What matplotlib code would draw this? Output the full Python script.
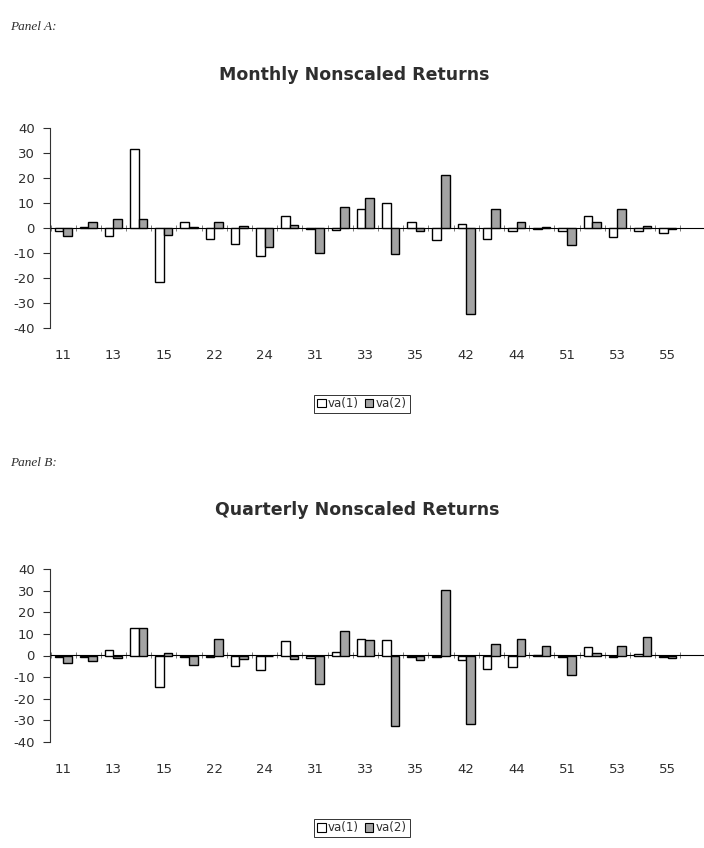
import matplotlib
matplotlib.use("Agg")
import matplotlib.pyplot as plt
from matplotlib.patches import Patch
import numpy as np

categories = ["11", "12", "13", "14", "15", "21", "22", "23", "24", "25",
              "31", "32", "33", "34", "35", "41", "42", "43", "44", "45",
              "51", "52", "53", "54", "55"]

monthly_va1 = [-1.0, 0.3, -3.0, 31.5, -21.5, 2.4, -4.4, -6.5, -11.0, 4.7,
               -0.3, -0.8, 7.7, 9.9, 2.3, -4.6, 1.8, -4.5, -1.0, -0.3,
               -1.0, 4.7, -3.4, -1.0, -2.0]
monthly_va2 = [-3.3, 2.4, 3.5, 3.8, -2.7, 0.3, 2.5, 1.0, -7.6, 1.2,
               -10.1, 8.4, 11.9, -10.3, -1.0, 21.2, -34.5, 7.7, 2.3, 0.3,
               -6.8, 2.3, 7.7, 0.7, -0.4]

quarterly_va1 = [-0.8, -0.5, 2.7, 12.8, -14.5, -0.5, -0.8, -4.8, -6.5, 6.7,
                 -1.0, 1.6, 7.8, 7.0, -0.5, -0.6, -2.3, -6.2, -5.2, 0.3,
                 -0.8, 3.8, -0.5, 0.8, -0.8]
quarterly_va2 = [-3.5, -2.5, -1.3, 12.6, 1.2, -4.5, 7.8, -1.5, -0.3, -1.5,
                 -13.0, 11.4, 7.0, -32.5, -2.2, 30.5, -31.5, 5.2, 7.8, 4.6,
                 -8.8, 1.2, 4.6, 8.5, -1.3]

series_labels = ["va(1)", "va(2)"]
yticks = [40, 30, 20, 10, 0, -10, -20, -30, -40]

plt.rcParams["font.family"] = ["DejaVu Sans"]
text_color = "#2e2e2e"
gray_fill = "#a3a3a3"

fig = plt.figure(figsize=(7.04, 8.48), dpi=100)


def draw_panel(ax, va1, va2):
    x = np.arange(len(categories))
    w = 0.34
    ax.bar(x - w / 2, va1, width=w, color="white", edgecolor="black", linewidth=1.0, zorder=3)
    ax.bar(x + w / 2, va2, width=w, color=gray_fill, edgecolor="black", linewidth=1.0, zorder=3)
    ax.set_ylim(-40, 40)
    ax.set_xlim(-0.52, 25.44)
    ax.set_yticks(yticks)
    ax.set_yticklabels([str(v) for v in yticks])
    ax.tick_params(axis="y", direction="out", length=5, width=0.8, labelsize=9.5,
                   colors=text_color, pad=6)
    ax.set_xticks(x[::2])
    ax.set_xticklabels(categories[::2])
    ax.tick_params(axis="x", length=0, labelsize=9.5, colors=text_color, pad=15)
    for s in ["top", "right", "bottom"]:
        ax.spines[s].set_visible(False)
    ax.spines["left"].set_linewidth(0.8)
    ax.spines["left"].set_color("#333333")
    sec = ax.secondary_xaxis(0.5)
    sec.set_xticks(np.arange(-0.5, len(categories) + 0.5, 1.0))
    sec.tick_params(axis="x", direction="inout", length=5, width=0.6, labelbottom=False,
                    labeltop=False, colors="#666666")
    sec.set_xticklabels([])
    sec.spines["bottom"].set_linewidth(1.0)
    sec.spines["bottom"].set_color("black")
    ax.set_facecolor("none")


axA = fig.add_axes([50 / 704, 1 - 328 / 848, 1 - 50 / 704, 200 / 848])
draw_panel(axA, monthly_va1, monthly_va2)
axB = fig.add_axes([50 / 704, 1 - 742 / 848, 1 - 50 / 704, 173 / 848])
draw_panel(axB, quarterly_va1, quarterly_va2)

fig.text(10 / 704, 1 - 27 / 848, "Panel A:", family="Liberation Serif", style="italic",
         fontsize=9.5, color=text_color, va="center", ha="left")
fig.text(10 / 704, 1 - 463 / 848, "Panel B:", family="Liberation Serif", style="italic",
         fontsize=9.5, color=text_color, va="center", ha="left")
fig.text(354 / 704, 1 - 75 / 848, "Monthly Nonscaled Returns", fontsize=12.5,
         fontweight="bold", color=text_color, ha="center", va="center")
fig.text(357 / 704, 1 - 510 / 848, "Quarterly Nonscaled Returns", fontsize=12.5,
         fontweight="bold", color=text_color, ha="center", va="center")

handles = [Patch(facecolor="white", edgecolor="black", linewidth=0.8),
           Patch(facecolor=gray_fill, edgecolor="black", linewidth=0.8)]
for yc in [404, 828]:
    leg = fig.legend(handles, series_labels, loc="center", bbox_to_anchor=(362 / 704, 1 - yc / 848),
                     ncol=2, fontsize=8.5, frameon=True, fancybox=False, handlelength=0.7,
                     handleheight=0.7, handletextpad=0.2, columnspacing=0.5, borderpad=0.25,
                     borderaxespad=0)
    leg.get_frame().set_edgecolor("black")
    leg.get_frame().set_linewidth(0.7)
    for t in leg.get_texts():
        t.set_color(text_color)

fig.savefig("out.png", dpi=100, facecolor="white")
